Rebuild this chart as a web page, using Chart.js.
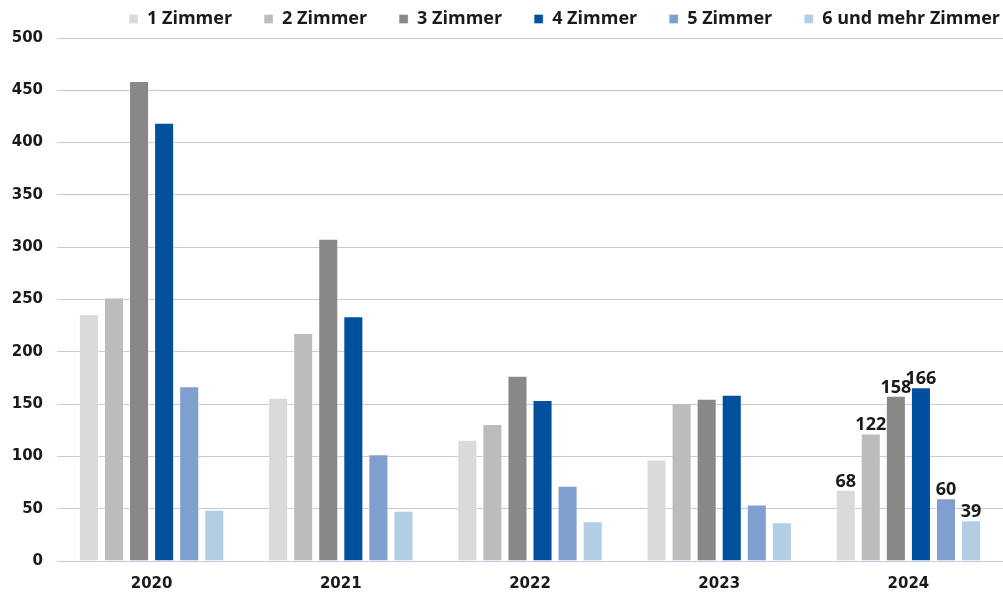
<!DOCTYPE html>
<html>
<head>
<meta charset="utf-8">
<script src="https://cdn.jsdelivr.net/npm/chart.js@4.4.1/dist/chart.umd.min.js"></script>
<style>
  html, body { margin: 0; padding: 0; background: #fff; }
  #wrap { width: 1003px; height: 594px; }
</style>
</head>
<body>
<div id="wrap"><canvas id="chart" width="1003" height="594"></canvas></div>
<script>
// Baufertigstellungen nach Zimmerzahl
const years = ['2020', '2021', '2022', '2023', '2024']

const zimmer1 = [236, 156, 116, 97, 68]
const zimmer2 = [252, 218, 131, 151, 122]
const zimmer3 = [459, 308, 177, 155, 158]
const zimmer4 = [419, 234, 154, 159, 166]
const zimmer5 = [167, 102, 72, 54, 60]
const zimmer6 = [49, 48, 38, 37, 39]

const seriesNames = ['1 Zimmer', '2 Zimmer', '3 Zimmer', '4 Zimmer', '5 Zimmer', '6 und mehr Zimmer']
const colors = ['#d9dad9', '#bbbcbb', '#878887', '#00509e', '#7f9fcf', '#b3cde4']

const yTicks = [0, 50, 100, 150, 200, 250, 300, 350, 400, 450, 500]

const tickFont = { family: 'DejaVu Sans', weight: 'bold', size: 15 }
const labelFont = { family: 'Open Sans', weight: 'bold', size: 18 }
const legendGap = 32

// values written above the bars of the last year only
const lastYearLabels = {
	id: 'lastYearLabels',
	afterLayout(chart) {
		// legend is right aligned, let the last item run past the trailing gap
		chart.legend.right += legendGap - 3
	},
	afterDatasetsDraw(chart) {
		const ctx = chart.ctx
		const idx = years.length - 1
		ctx.save()
		ctx.font = `bold ${labelFont.size}px ${labelFont.family}`
		ctx.fillStyle = '#1a1a1a'
		ctx.textAlign = 'center'
		ctx.textBaseline = 'alphabetic'
		chart.data.datasets.forEach((ds, i) => {
			const bar = chart.getDatasetMeta(i).data[idx]
			ctx.fillText(String(ds.data[idx]), bar.x, bar.y - 3)
		})
		ctx.restore()
	}
}

const datasets = [zimmer1, zimmer2, zimmer3, zimmer4, zimmer5, zimmer6].map((values, i) => ({
	label: seriesNames[i],
	data: values,
	backgroundColor: colors[i],
	borderColor: 'rgba(255,255,255,0.35)',
	borderWidth: 1,
	categoryPercentage: 0.795,
	barPercentage: 0.8
}))

new Chart(document.getElementById('chart'), {
	type: 'bar',
	data: { labels: years, datasets },
	options: {
		responsive: false,
		animation: false,
		layout: { padding: { top: -22, right: 0, left: 0, bottom: 0 } },
		plugins: {
			legend: {
				position: 'top',
				align: 'end',
				labels: {
					boxWidth: 9,
					boxHeight: 9,
					padding: legendGap,
					color: '#1a1a1a',
					font: labelFont
				}
			},
			tooltip: { enabled: false }
		},
		scales: {
			x: {
				grid: { display: false },
				border: { display: true, color: '#c5c9e6', width: 1 },
				ticks: { color: '#1a1a1a', font: tickFont, padding: 6 },
				afterFit: (s) => { s.height = 33 }
			},
			y: {
				min: 0,
				max: 500,
				afterBuildTicks: (s) => { s.ticks = yTicks.map(v => ({ value: v })) },
				grid: { color: '#c5c9e6', lineWidth: 1, drawTicks: false },
				border: { display: false },
				ticks: { color: '#1a1a1a', font: tickFont, padding: 14 },
				afterFit: (s) => { s.width = 57 }
			}
		}
	},
	plugins: [lastYearLabels]
})
</script>
</body>
</html>
